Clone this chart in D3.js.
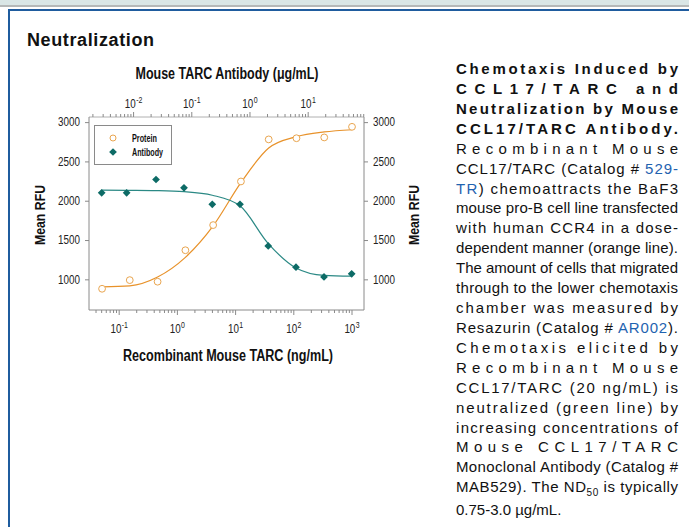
<!DOCTYPE html>
<html>
<head>
<meta charset="utf-8">
<script src="https://cdn.jsdelivr.net/npm/d3@7"></script>
<style>
  body { margin: 0; background: #fff; }
  svg { display: block; }
</style>
</head>
<body>
<svg id="fig" width="689" height="527"></svg>
<script>
// Recombinant mouse TARC, 3-fold dilutions (ng/mL) and measured chemotaxis (RFU)
const proteinConc = [0.0508, 0.152, 0.457, 1.372, 4.115, 12.35, 37.04, 111.1, 333.3, 1000];
const proteinRFU  = [880, 990, 970, 1370, 1690, 2245, 2780, 2795, 2805, 2940];
// fitted dose-response line for the protein, sampled at the same doses
const proteinFit  = [905, 918, 1030, 1280, 1680, 2230, 2670, 2815, 2875, 2903];

// Neutralizing antibody dilutions (µg/mL) and the remaining chemotaxis (RFU)
const antibodyConc = [0.00283, 0.0076, 0.0243, 0.0735, 0.225, 0.673, 2.06, 6.17, 18.7, 55.9];
const antibodyRFU  = [2100, 2100, 2270, 2165, 1955, 1955, 1425, 1155, 1030, 1070];
// fitted neutralization line, sampled at the same doses
const antibodyFit  = [2135, 2132, 2128, 2115, 2070, 1935, 1455, 1145, 1050, 1040];

const yTickValues = [1000, 1500, 2000, 2500, 3000];
const bottomExponents = [-1, 0, 1, 2, 3];
const topExponents = [-2, -1, 0, 1];
const seriesNames = ["Protein", "Antibody"];

const chartFont = "'Liberation Sans',Arial,sans-serif";
const orange = "#e8922a", orangeMarker = "#e9a54f";
const teal = "#2b8985", tealMarker = "#0d6b66";
const axisGray = "#8a8a8a";
const NARROW = 0.82; // squeeze factor giving a condensed face

const svg = d3.select("#fig");

// squeeze each text element horizontally to a condensed width
function condense(sel, factor = NARROW) {
  sel.each(function() {
    const w = this.getComputedTextLength() * factor;
    d3.select(this).attr("textLength", w).attr("lengthAdjust", "spacingAndGlyphs");
  });
}

// ---------- page frame ----------
svg.append("rect").attr("x", 0).attr("y", 0).attr("width", 689).attr("height", 527).attr("fill", "#fff");
svg.append("rect").attr("x", 0).attr("y", 0).attr("width", 689).attr("height", 5).attr("fill", "#d9e6e6");
svg.append("rect").attr("x", 0).attr("y", 5).attr("width", 689).attr("height", 2).attr("fill", "#b4b8b8");
svg.append("rect").attr("x", 8).attr("y", 9).attr("width", 681).attr("height", 2).attr("fill", "#1f5c9e");
svg.append("rect").attr("x", 8).attr("y", 9).attr("width", 2).attr("height", 518).attr("fill", "#1f5c9e");

svg.append("text")
  .attr("x", 27).attr("y", 46)
  .attr("font-family", "'Liberation Sans',Arial,sans-serif")
  .attr("font-weight", "bold").attr("font-size", 18)
  .attr("fill", "#111")
  .attr("textLength", 127).attr("lengthAdjust", "spacing")
  .text("Neutralization");

// ---------- chart ----------
const plotL = 89, plotR = 364, plotT = 117, plotB = 310;

const x = d3.scaleLog().domain([0.0303, 1607]).range([plotL, plotR]);
const xTop = d3.scaleLog().domain([0.001714, 91]).range([plotL, plotR]);
const y = d3.scaleLinear().domain([610, 3065]).range([plotB, plotT]);

function logTicks(scale) {
  const [a, b] = scale.domain();
  const out = [];
  for (let e = Math.floor(Math.log10(a)); e <= Math.ceil(Math.log10(b)); e++) {
    for (let m = 1; m <= 9; m++) {
      const v = m * Math.pow(10, e);
      if (v >= a && v <= b) out.push({ v, major: m === 1 });
    }
  }
  return out;
}

const g = svg.append("g");

// bottom axis
const bottomAxis = g.append("g").attr("transform", `translate(0,${plotB})`);
bottomAxis.append("line").attr("x1", plotL).attr("x2", plotR).attr("stroke", axisGray);
bottomAxis.selectAll("line.tick").data(logTicks(x)).join("line")
  .attr("class", "tick")
  .attr("x1", d => x(d.v)).attr("x2", d => x(d.v))
  .attr("y1", 0).attr("y2", d => d.major ? 5 : 3)
  .attr("stroke", axisGray);

// top axis
const topAxis = g.append("g").attr("transform", `translate(0,${plotT})`);
topAxis.append("line").attr("x1", plotL).attr("x2", plotR).attr("stroke", "#b0b0b0");
topAxis.selectAll("line.tick").data(logTicks(xTop)).join("line")
  .attr("class", "tick")
  .attr("x1", d => xTop(d.v)).attr("x2", d => xTop(d.v))
  .attr("y1", 0).attr("y2", d => d.major ? -5 : -3)
  .attr("stroke", axisGray);

// left / right value axes
const yLeft = d3.axisLeft(y).tickValues(yTickValues).tickFormat(d3.format("d"))
  .tickSize(4).tickPadding(5).tickSizeOuter(0);
const yRight = d3.axisRight(y).tickValues(yTickValues).tickFormat(d3.format("d"))
  .tickSize(4).tickPadding(5).tickSizeOuter(0);
[[yLeft, plotL], [yRight, plotR]].forEach(([ax, px]) => {
  const a = g.append("g").attr("transform", `translate(${px},0)`).call(ax);
  a.select(".domain").attr("stroke", axisGray).attr("d", `M0,${plotT}V${plotB}`);
  a.selectAll(".tick line").attr("stroke", axisGray);
  a.selectAll(".tick text").attr("font-family", chartFont).attr("font-size", 12).attr("fill", "#222");
  condense(a.selectAll(".tick text"));
});

// power-of-ten tick labels: "10" with a raised exponent, narrowed and centred on the tick
function powerLabels(sel, exps, scale, yBase) {
  const t = sel.selectAll(null).data(exps).join("text")
    .attr("transform", d => `translate(${scale(Math.pow(10, d))},${yBase}) scale(${NARROW},1)`)
    .attr("text-anchor", "middle")
    .attr("font-family", chartFont).attr("font-size", 12).attr("fill", "#222");
  t.append("tspan").text("10");
  t.append("tspan").attr("dy", -5).attr("dx", 0.5).attr("font-size", 8.5).text(d => String(d));
}
powerLabels(g, bottomExponents, x, 333);
powerLabels(g, topExponents, xTop, 108);

// axis titles
const titles = g.append("g").attr("font-family", chartFont).attr("fill", "#111").attr("font-weight", "bold");
titles.append("text").attr("x", 227).attr("y", 79).attr("text-anchor", "middle")
  .attr("font-size", 16).attr("textLength", 183).attr("lengthAdjust", "spacingAndGlyphs")
  .text("Mouse TARC Antibody (\u03BCg/mL)");
titles.append("text").attr("x", 228).attr("y", 361).attr("text-anchor", "middle")
  .attr("font-size", 16).attr("textLength", 210).attr("lengthAdjust", "spacingAndGlyphs")
  .text("Recombinant Mouse TARC (ng/mL)");
[40, 414].forEach(cx => {
  titles.append("text").attr("transform", `translate(${cx + 5},${215}) rotate(-90)`)
    .attr("text-anchor", "middle").attr("font-size", 15)
    .attr("textLength", 60).attr("lengthAdjust", "spacingAndGlyphs")
    .text("Mean RFU");
});

// fitted lines
const line = d3.line().curve(d3.curveMonotoneX);
g.append("path")
  .attr("d", line(proteinConc.map((c, i) => [x(c), y(proteinFit[i])])))
  .attr("fill", "none").attr("stroke", orange).attr("stroke-width", 1.2);
g.append("path")
  .attr("d", line(antibodyConc.map((c, i) => [xTop(c), y(antibodyFit[i])])))
  .attr("fill", "none").attr("stroke", teal).attr("stroke-width", 1.2);

// measured points
g.selectAll("circle.protein").data(proteinConc).join("circle")
  .attr("class", "protein")
  .attr("cx", d => x(d)).attr("cy", (d, i) => y(proteinRFU[i])).attr("r", 3.4)
  .attr("fill", "#fff").attr("stroke", orangeMarker).attr("stroke-width", 1);
const marker = d3.symbol().type(d3.symbolSquare).size(30);
g.selectAll("path.antibody").data(antibodyConc).join("path")
  .attr("class", "antibody")
  .attr("transform", (d, i) => `translate(${xTop(d)},${y(antibodyRFU[i])}) rotate(45)`)
  .attr("d", marker).attr("fill", tealMarker);

// legend
const lg = g.append("g");
lg.append("rect").attr("x", 94.5).attr("y", 125.5).attr("width", 77).attr("height", 39)
  .attr("fill", "#fff").attr("stroke", "#8a8a8a");
lg.append("circle").attr("cx", 113).attr("cy", 138).attr("r", 3)
  .attr("fill", "#fff").attr("stroke", orangeMarker);
lg.append("path").attr("transform", "translate(113,152) rotate(45)").attr("d", marker).attr("fill", tealMarker);
const legendWidths = [25, 31];
seriesNames.forEach((n, i) => {
  lg.append("text").attr("x", 132).attr("y", 141.5 + i * 14)
    .attr("font-family", chartFont).attr("font-size", 10.5).attr("font-weight", "bold")
    .attr("fill", "#111")
    .attr("textLength", legendWidths[i]).attr("lengthAdjust", "spacingAndGlyphs")
    .text(n);
});

// ---------- caption ----------
const captionLines = [
  [{ t: "Chemotaxis Induced by", b: 1 }],
  [{ t: "CCL17/TARC and", b: 1 }],
  [{ t: "Neutralization by Mouse", b: 1 }],
  [{ t: "CCL17/TARC Antibody.", b: 1 }],
  [{ t: "Recombinant Mouse" }],
  [{ t: "CCL17/TARC (Catalog # " }, { t: "529-", link: 1 }],
  [{ t: "TR", link: 1 }, { t: ") chemoattracts the BaF3" }],
  [{ t: "mouse pro-B cell line transfected" }],
  [{ t: "with human CCR4 in a dose-" }],
  [{ t: "dependent manner (orange line)." }],
  [{ t: "The amount of cells that migrated" }],
  [{ t: "through to the lower chemotaxis" }],
  [{ t: "chamber was measured by" }],
  [{ t: "Resazurin (Catalog # " }, { t: "AR002", link: 1 }, { t: ")." }],
  [{ t: "Chemotaxis elicited by" }],
  [{ t: "Recombinant Mouse" }],
  [{ t: "CCL17/TARC (20 ng/mL) is" }],
  [{ t: "neutralized (green line) by" }],
  [{ t: "increasing concentrations of" }],
  [{ t: "Mouse CCL17/TARC" }],
  [{ t: "Monoclonal Antibody (Catalog #" }],
  [{ t: "MAB529). The ND" }, { t: "50", sub: 1 }, { t: " is typically" }],
  [{ t: "0.75-3.0 \u00B5g/mL." }]
];
const cap = svg.append("g").attr("font-family", "'Liberation Sans',Arial,sans-serif").attr("font-size", 15);
captionLines.forEach((segs, i) => {
  const last = i === captionLines.length - 1;
  const yy = last ? 515 : 74 + i * 19.92;
  const t = cap.append("text").attr("x", 456).attr("y", yy).attr("fill", "#111");
  if (!last) t.attr("textLength", 222).attr("lengthAdjust", "spacing");
  segs.forEach((s, k) => {
    const sp = t.append("tspan").text(s.t);
    if (s.b) sp.attr("font-weight", "bold");
    if (s.link) sp.attr("fill", "#1f63b0");
    if (s.sub) sp.attr("font-size", 10).attr("dy", 4);
    if (k > 0 && segs[k - 1].sub) sp.attr("dy", -4);
  });
});
</script>
</body>
</html>
